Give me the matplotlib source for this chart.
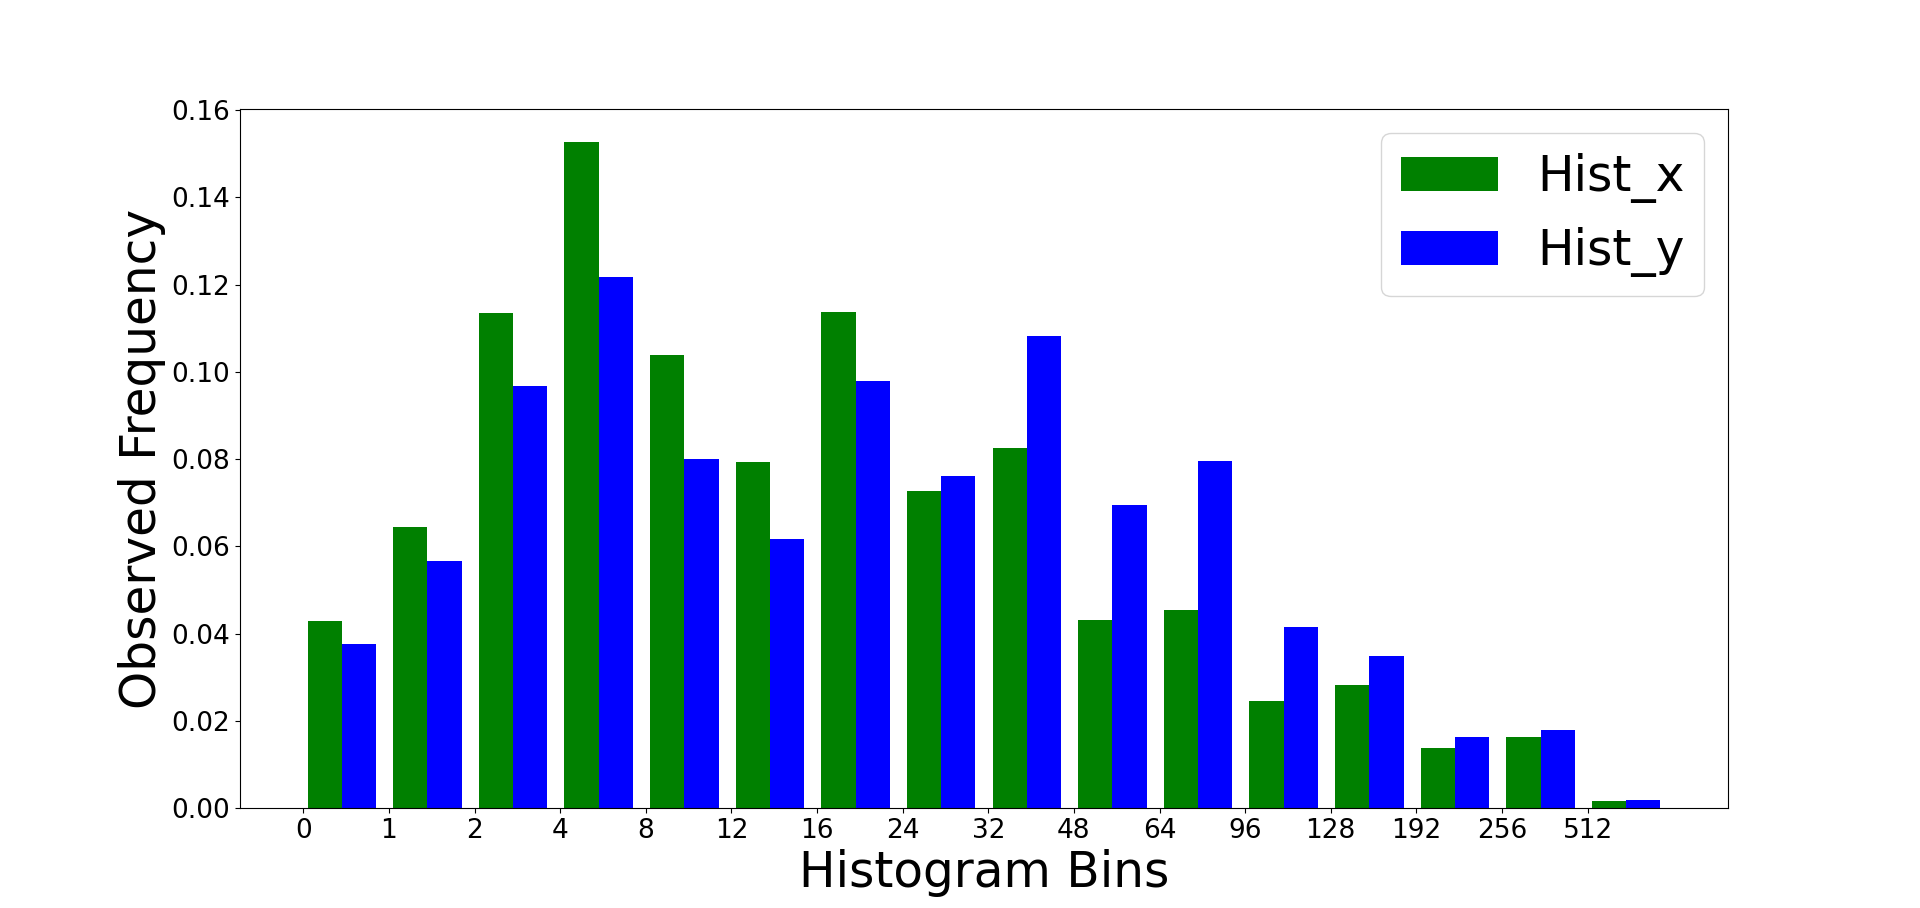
import matplotlib

matplotlib.use("Agg")
import matplotlib.pyplot as plt
import numpy as np

bin_labels = ["0", "1", "2", "4", "8", "12", "16", "24", "32", "48",
              "64", "96", "128", "192", "256", "512"]
hist_x = [0.0428, 0.0644, 0.1134, 0.1526, 0.1038, 0.0793, 0.1138, 0.0726,
          0.0826, 0.0431, 0.0453, 0.0245, 0.0282, 0.0138, 0.0163, 0.0016]
hist_y = [0.0375, 0.0566, 0.0968, 0.1217, 0.0801, 0.0616, 0.0978, 0.0762,
          0.1081, 0.0694, 0.0795, 0.0414, 0.0348, 0.0163, 0.0179, 0.0019]

fig, ax = plt.subplots(figsize=(19.2, 9.08), dpi=100)
idx = np.arange(len(bin_labels))
w = 0.4
ax.bar(idx + 0.05, hist_x, width=w, align="edge", color="green", label="Hist_x")
ax.bar(idx + 0.45, hist_y, width=w, align="edge", color="blue", label="Hist_y")

ax.set_xticks(idx)
ax.set_xticklabels(bin_labels)
ax.tick_params(labelsize=19)
ax.set_xlabel("Histogram Bins", fontsize=35)
ax.set_ylabel("Observed Frequency", fontsize=35)
ax.legend(fontsize=35)

fig.savefig("out.png", dpi=100)
